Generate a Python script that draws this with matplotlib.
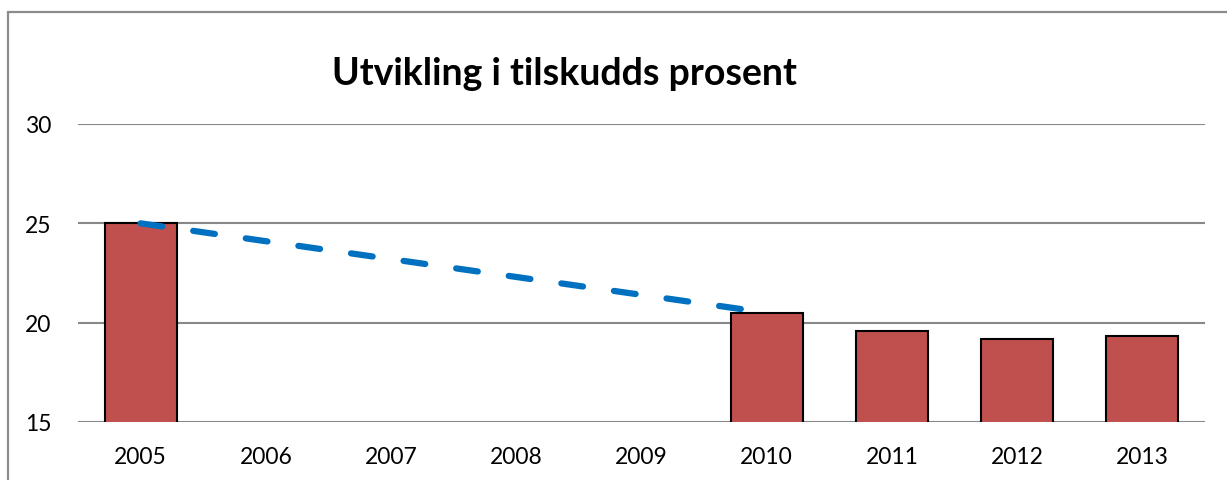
import matplotlib
matplotlib.use("Agg")
import matplotlib.pyplot as plt
from matplotlib.patches import Rectangle
import numpy as np

years = ["2005", "2006", "2007", "2008", "2009", "2010", "2011", "2012", "2013"]
bar_values = [25.0, np.nan, np.nan, np.nan, np.nan, 20.5, 19.6, 19.18, 19.35]
trend_years = ["2005", "2010"]
trend_values = [25.0, 20.5]
y_ticks = [15, 20, 25, 30]
title = "Utvikling i tilskudds prosent"

plt.rcParams['font.family'] = ['Lato', 'DejaVu Sans']

fig = plt.figure(figsize=(12.27, 4.81), dpi=100)
ax = fig.add_axes([78/1227, 1-423/481, (1205-78)/1227, (423-125)/481])

x = np.arange(len(years))
ax.bar(x, bar_values, width=0.575, bottom=0, color="#C0504D",
       edgecolor="black", linewidth=1.5, zorder=3)
tx = [years.index(y) for y in trend_years]
ax.plot(tx, trend_values, color="#0070C0", lw=4.5, linestyle=(0, (3.5, 5)),
        dash_capstyle="round", solid_capstyle="round", zorder=4)

ax.set_xlim(-0.5, len(years) - 0.5)
ax.set_ylim(15, 30)
ax.set_yticks(y_ticks)
ax.set_xticks(x)
ax.set_xticklabels(years)
ax.yaxis.grid(True, color="#888888", lw=1.5, zorder=0)
ax.set_axisbelow(True)
for s in ax.spines.values():
    s.set_visible(False)
ax.tick_params(axis="both", length=0, labelsize=16.5, colors="black")
ax.tick_params(axis="x", pad=17)
ax.tick_params(axis="y", pad=19)

fig.text(564/1227, 1-85/481, title, ha="center", va="baseline",
         fontsize=27, fontweight="bold", color="black")

fig.patches.append(Rectangle((8/1227, -0.2), 1.5, 0.2 + 1-13/481,
                             transform=fig.transFigure, fill=False,
                             edgecolor="#8c8c8c", lw=1.6, clip_on=False))

fig.savefig("out.png", dpi=100)
